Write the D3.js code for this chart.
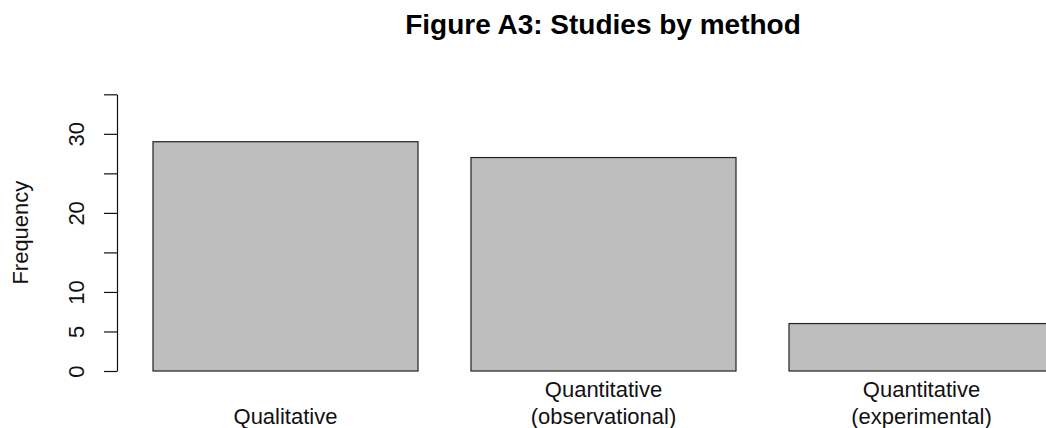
<!DOCTYPE html>
<html>
<head>
<meta charset="utf-8">
<script src="https://cdn.jsdelivr.net/npm/d3@7"></script>
<style>
  body { margin: 0; background: #fff; }
  svg { display: block; font-family: "Liberation Sans", Arial, sans-serif; }
</style>
</head>
<body>
<svg id="chart" width="1046" height="428"></svg>
<script>
// data
const categories = ['Qualitative', 'Quantitative\n(observational)', 'Quantitative\n(experimental)'];
const frequencies = [29, 27, 6];
const yTicks = [0, 5, 10, 15, 20, 25, 30, 35];
const yTickLabels = [0, 5, 10, 20, 30];   // R drops labels that would overlap
const title = 'Figure A3: Studies by method';
const yTitle = 'Frequency';

const svg = d3.select('#chart');
const axisX = 117;
const labelSize = '22px';

const x = d3.scaleBand()
    .domain(categories)
    .range([153, 1054])
    .paddingInner(0.2 / 1.2)
    .paddingOuter(0);

const y = d3.scaleLinear()
    .domain([0, 35])
    .range([371, 94.3]);

// bars
svg.append('g')
    .selectAll('rect')
    .data(frequencies)
    .join('rect')
    .attr('x', (d, i) => x(categories[i]))
    .attr('y', d => y(d))
    .attr('width', x.bandwidth())
    .attr('height', d => y(0) - y(d))
    .attr('fill', '#bebebe')
    .attr('stroke', '#222')
    .attr('stroke-width', 1.2);

// y axis
const yAxis = d3.axisLeft(y)
    .tickValues(yTicks)
    .tickSize(13)
    .tickSizeOuter(0)
    .tickFormat(d => yTickLabels.includes(d) ? d : '');

const gy = svg.append('g')
    .attr('transform', `translate(${axisX},0)`)
    .call(yAxis);
gy.selectAll('path, line').attr('stroke', '#111').attr('stroke-width', 1.2);
gy.selectAll('text')
    .attr('transform', 'rotate(-90)')
    .attr('x', 0)
    .attr('y', -33)
    .attr('dy', 0)
    .attr('text-anchor', 'middle')
    .attr('fill', '#111')
    .style('font-size', labelSize)
    .style('font-family', '"Liberation Sans", Arial, sans-serif');

// category labels under bars, last line sitting on the same baseline
const lineGap = 26.5;
categories.forEach(c => {
  const lines = c.split('\n');
  const t = svg.append('text')
      .attr('text-anchor', 'middle')
      .attr('fill', '#111')
      .style('font-size', labelSize);
  lines.forEach((ln, i) => {
    t.append('tspan')
      .attr('x', x(c) + x.bandwidth() / 2)
      .attr('y', 423.5 - (lines.length - 1 - i) * lineGap)
      .text(ln);
  });
});

// axis title
svg.append('text')
    .attr('transform', `translate(27.5,${(y(0) + y(35)) / 2}) rotate(-90)`)
    .attr('text-anchor', 'middle')
    .attr('fill', '#111')
    .style('font-size', labelSize)
    .text(yTitle);

// main title
svg.append('text')
    .attr('x', 603)
    .attr('y', 34)
    .attr('text-anchor', 'middle')
    .attr('fill', '#000')
    .style('font-size', '28px')
    .style('font-weight', 'bold')
    .text(title);
</script>
</body>
</html>
